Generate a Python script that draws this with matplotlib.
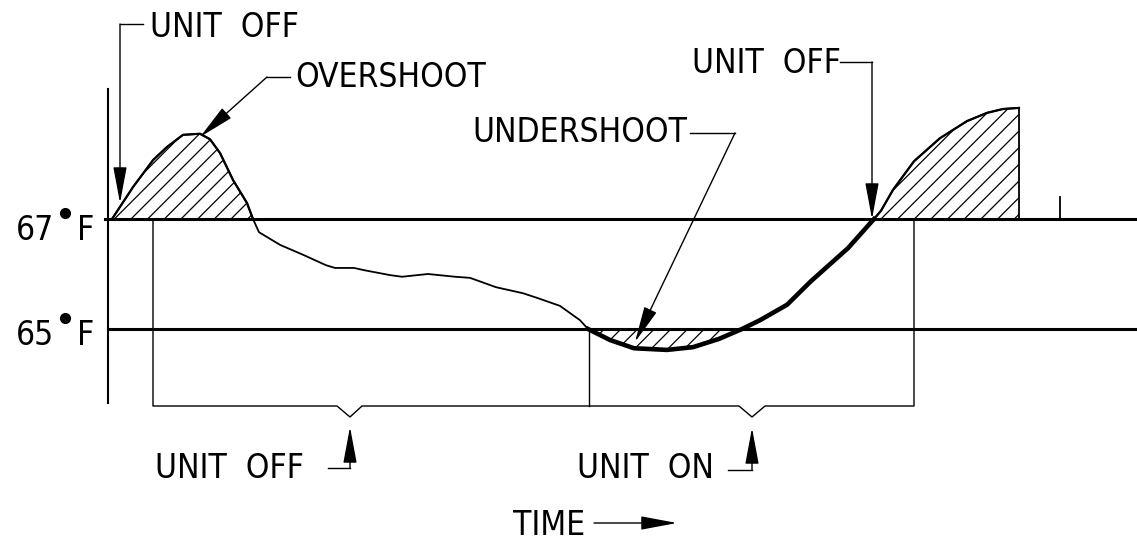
import matplotlib
matplotlib.use("Agg")
import matplotlib.pyplot as plt
import numpy as np

plt.rcParams['font.family'] = ['DejaVu Sans']
plt.rcParams['font.stretch'] = 'condensed'
plt.rcParams['hatch.linewidth'] = 0.9

# room temperature over time (time in arbitrary units, temperature in deg F)
time = np.array([112, 133, 153, 167, 183, 200, 210, 220, 233, 247, 253, 259, 280, 303,
                 326, 335, 354, 364, 390, 402, 428, 455, 470, 496, 523, 538, 560, 580,
                 588, 610, 634, 667, 693, 719, 742, 760, 787, 811, 848, 874, 881, 893,
                 914, 940, 967, 987, 1003, 1019])
temp = np.array([67.00, 67.58, 68.07, 68.31, 68.53, 68.55, 68.45, 68.20, 67.71, 67.29,
                 67.00, 66.76, 66.53, 66.35, 66.16, 66.11, 66.11, 66.07, 65.98, 65.95,
                 66.00, 65.95, 65.93, 65.76, 65.65, 65.56, 65.42, 65.16, 65.00, 64.80,
                 64.65, 64.62, 64.67, 64.82, 65.00, 65.16, 65.44, 65.87, 66.47, 67.00,
                 67.15, 67.53, 68.05, 68.47, 68.78, 68.93, 69.00, 69.02])

high_set = 67
low_set = 65
overshoot_end = 253
unit_on = 588
undershoot_end = 742
unit_off = 874
bracket_edges = [153, 589, 914]


def ty(row):
    # image row (pixels from top) -> temperature, used for annotation layout
    return 67 - (row - 219) * 2 / 110


fig = plt.figure(figsize=(11.37, 5.44), dpi=100)
ax = fig.add_axes([0, 0, 1, 1])
ax.set_xlim(0, 1137)
ax.set_ylim(ty(544), ty(0))
ax.axis('off')

# set point lines and vertical axis
ax.plot([105, 1137], [high_set, high_set], color='k', lw=2.2)
ax.plot([108, 1137], [low_set, low_set], color='k', lw=2.2)
ax.plot([108, 108], [ty(89), ty(403)], color='k', lw=1.5)

# temperature curve
ax.plot(time, temp, color='k', lw=1.3)
m = time <= overshoot_end
ax.plot(time[m], temp[m], color='k', lw=1.6)
m = (time >= unit_on) & (time <= unit_off)
ax.plot(time[m], temp[m], color='k', lw=3.3)
m = time >= unit_off
ax.plot(time[m], temp[m], color='k', lw=1.6)
ax.plot([time[-1], time[-1]], [high_set, temp[-1]], color='k', lw=1.3)
ax.plot([1060, 1060], [high_set, ty(197)], color='k', lw=1.3)

# hatched overshoot / undershoot areas
ax.fill_between(time, temp, high_set, where=(temp >= high_set) & (time <= overshoot_end),
                interpolate=True, facecolor='none', edgecolor='k', hatch='//', lw=0)
ax.fill_between(time, temp, high_set, where=(temp >= high_set) & (time >= unit_off),
                interpolate=True, facecolor='none', edgecolor='k', hatch='//', lw=0)
ax.fill_between(time, temp, low_set, where=(temp <= low_set) & (time >= unit_on) & (time <= undershoot_end),
                interpolate=True, facecolor='none', edgecolor='k', hatch='//', lw=0)

# bracket under the plot
yb = ty(406)
yv = ty(417)
left, mid, right = bracket_edges
ax.plot([left, left, 337, 350, 362, 739, 752, 765, right, right],
        [high_set, yb, yb, yv, yb, yb, yv, yb, yb, high_set], color='k', lw=1.0)
ax.plot([mid, mid], [low_set, yb], color='k', lw=1.0)

ap = dict(arrowstyle='-|>,head_length=1.5,head_width=0.28', mutation_scale=15,
          lw=1.0, color='k', shrinkA=0, shrinkB=0)
fs = 24

ax.text(150, ty(37), 'UNIT  OFF', fontsize=fs, ha='left', va='baseline')
ax.plot([143, 120], [ty(24), ty(24)], color='k', lw=1.0)
ax.annotate('', xy=(120, ty(203)), xytext=(120, ty(24)), arrowprops=ap)

ax.text(295, ty(87), 'OVERSHOOT', fontsize=fs, ha='left', va='baseline')
ax.plot([290, 267], [ty(77), ty(77)], color='k', lw=1.0)
ax.annotate('', xy=(200, ty(137)), xytext=(267, ty(77)), arrowprops=ap)

ax.text(692, ty(73), 'UNIT  OFF', fontsize=fs, ha='left', va='baseline')
ax.plot([840, 872], [ty(62), ty(62)], color='k', lw=1.0)
ax.annotate('', xy=(872, ty(219)), xytext=(872, ty(62)), arrowprops=ap)

ax.text(472, ty(142), 'UNDERSHOOT', fontsize=fs, ha='left', va='baseline')
ax.plot([690, 735], [ty(133), ty(133)], color='k', lw=1.0)
ax.annotate('', xy=(635, ty(342)), xytext=(735, ty(133)), arrowprops=ap)

ax.text(155, ty(478), 'UNIT  OFF', fontsize=fs, ha='left', va='baseline')
ax.plot([328, 350], [ty(468), ty(468)], color='k', lw=1.0)
ax.annotate('', xy=(350, ty(427)), xytext=(350, ty(468)), arrowprops=ap)

ax.text(577, ty(478), 'UNIT  ON', fontsize=fs, ha='left', va='baseline')
ax.plot([728, 752], [ty(470), ty(470)], color='k', lw=1.0)
ax.annotate('', xy=(752, ty(428)), xytext=(752, ty(470)), arrowprops=ap)

ax.text(513, ty(535), 'TIME', fontsize=fs, ha='left', va='baseline')
ax.annotate('', xy=(677, ty(523)), xytext=(594, ty(523)), arrowprops=ap)

# y labels with filled degree dot
for t, row in [(high_set, 240), (low_set, 345)]:
    ax.text(16, ty(row), str(t), fontsize=fs, ha='left', va='baseline')
    ax.text(77, ty(row), 'F', fontsize=fs, ha='left', va='baseline')
    ax.plot([65], [ty(row - 27)], 'o', color='k', ms=7)

fig.savefig('out.png', dpi=100)
